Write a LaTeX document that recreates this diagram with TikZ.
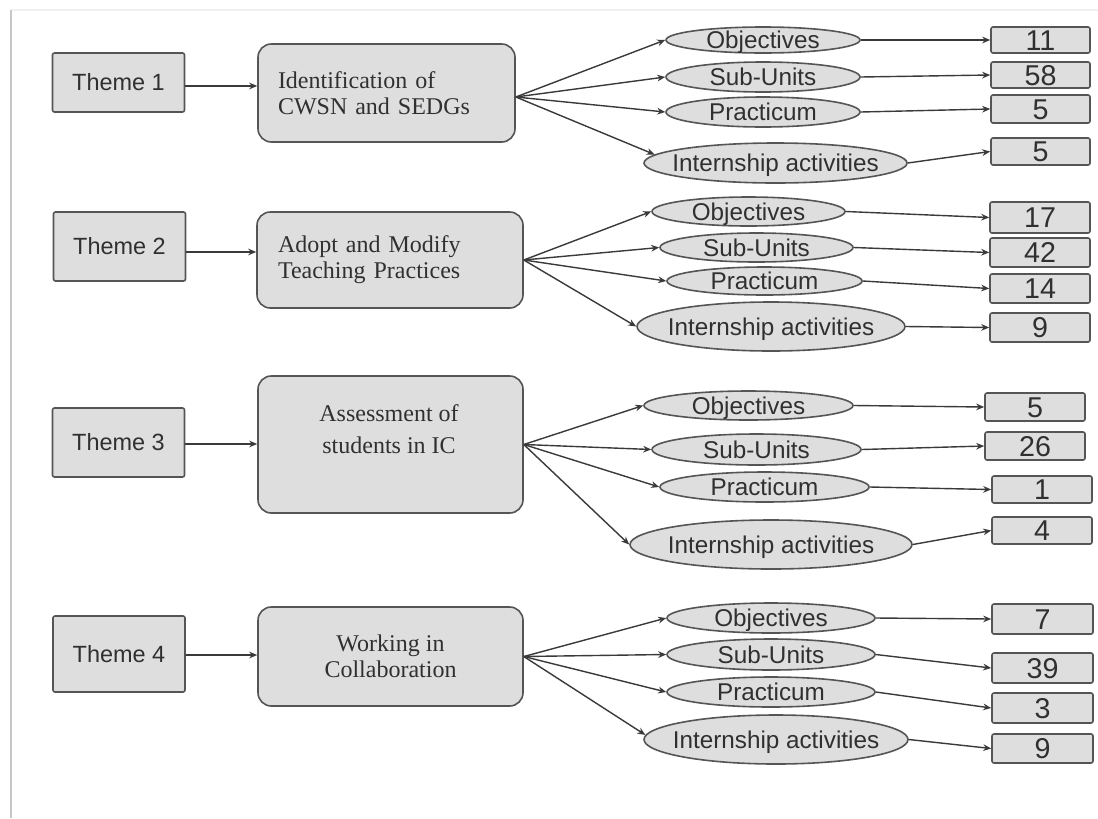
\documentclass[tikz,border=0pt]{standalone}
\usepackage{fontspec}
\setmainfont{Liberation Sans}
\newfontfamily\serifx{Liberation Serif}
\usetikzlibrary{shapes.geometric,arrows.meta}
\definecolor{boxfill}{HTML}{DEDEDE}
\definecolor{boxline}{HTML}{555555}
\definecolor{txt}{HTML}{303030}
\definecolor{conn}{HTML}{3A3A3A}
\newcommand\zw[1]{\makebox[0pt]{#1}}
\begin{document}
\begin{tikzpicture}[x=0.75pt,y=-0.75pt,
  theme/.style={draw=boxline, fill=boxfill, line width=1.2pt, rounded corners=1.5pt, minimum width=99pt, inner sep=0pt, text=txt, font=\fontsize{17.6}{20}\selectfont},
  mid/.style={draw=boxline, fill=boxfill, line width=1.2pt, rounded corners=10pt, inner sep=0pt, text=txt, font=\serifx\fontsize{18}{19.5}\selectfont},
  midtext/.style={inner sep=0pt, text=txt, font=\serifx\fontsize{18}{20}\selectfont, align=center},
  ell/.style={ellipse, draw=boxline, fill=boxfill, line width=1.2pt, inner sep=0pt, text height=12.9pt, text depth=0pt, text=txt, font=\fontsize{18.2}{20}\selectfont},
  num/.style={draw=boxline, fill=boxfill, line width=1.2pt, rounded corners=1.5pt, inner sep=0pt, text height=15.4pt, text depth=0pt, text=txt, font=\fontsize{21.5}{24}\selectfont},
  arr/.style={draw=conn, line width=1.05pt, -{Stealth[length=6pt,width=5pt]}},
]
\useasboundingbox (0,0) rectangle (1098,818);
\fill[white] (0,0) rectangle (1098,818);
\draw[gray!12, line width=1.2pt] (11,10) -- (1098,10);
\draw[gray!45, line width=2.2pt] (11,10) -- (11,818);

% ---------------- Theme 1
\node[theme, minimum height=44.25pt] (t1) at (118.5,82.5) {Theme 1};
\node[mid, minimum width=192.75pt, minimum height=73.5pt, align=left, text width=162.75pt] (m1) at (386.5,93) {Identification of\\CWSN and SEDGs};
\node[ell, minimum width=145.5pt, minimum height=19.5pt] (o1) at (763,40) {\zw{Objectives}};
\node[ell, minimum width=145.5pt, minimum height=22.5pt] (s1) at (763,77) {\zw{Sub-Units}};
\node[ell, minimum width=145.5pt, minimum height=22.5pt] (p1) at (763,112) {\zw{Practicum}};
\node[ell, minimum width=197.25pt, minimum height=30pt] (i1) at (775.5,163) {\zw{Internship activities}};
\node[num, minimum width=74.25pt, minimum height=19.5pt] (n11) at (1040.5,40) {11};
\node[num, minimum width=74.25pt, minimum height=19.5pt] (n12) at (1040.5,75) {58};
\node[num, minimum width=74.25pt, minimum height=21pt] (n13) at (1040.5,109) {5};
\node[num, minimum width=74.25pt, minimum height=20.25pt] (n14) at (1040.5,151.5) {5};
\coordinate (a1) at ([yshift=-2.6pt]t1.east);
\draw[arr] (a1) -- (a1 -| m1.west);
\coordinate (f1) at ([yshift=-3pt]m1.east);
\draw[arr] (f1) -- (o1.west);
\draw[arr] (f1) -- (s1.west);
\draw[arr] (f1) -- (p1.west);
\draw[arr] (f1) -- (i1.176);
\draw[arr] (o1.east) -- (n11.west);
\draw[arr] (s1.east) -- (n12.west);
\draw[arr] (p1.east) -- (n13.west);
\draw[arr] (i1.east) -- (n14.west);

% ---------------- Theme 2
\node[theme, minimum height=51.75pt] (t2) at (119.5,246.5) {Theme 2};
\node[mid, minimum width=199.5pt, minimum height=72pt, align=left, text width=168pt] (m2) at (390,260) {Adopt and Modify\\Teaching Practices};
\node[ell, minimum width=144.75pt, minimum height=21.75pt] (o2) at (748.5,211.5) {\zw{Objectives}};
\node[ell, minimum width=144.75pt, minimum height=21.75pt] (s2) at (756.5,247.5) {\zw{Sub-Units}};
\node[ell, minimum width=146.25pt, minimum height=21pt] (p2) at (764.5,281) {\zw{Practicum}};
\node[ell, minimum width=201pt, minimum height=36.75pt] (i2) at (771,326.5) {\zw{Internship activities}};
\node[num, minimum width=75pt, minimum height=23.25pt] (n21) at (1040,217.5) {17};
\node[num, minimum width=75pt, minimum height=21.75pt] (n22) at (1040,252.5) {42};
\node[num, minimum width=75pt, minimum height=21.75pt] (n23) at (1040,288.5) {14};
\node[num, minimum width=75pt, minimum height=21.75pt] (n24) at (1040,327.5) {9};
\coordinate (a2) at ([yshift=-4.1pt]t2.east);
\draw[arr] (a2) -- (a2 -| m2.west);
\coordinate (f2) at (m2.east);
\draw[arr] (f2) -- (o2.west);
\draw[arr] (f2) -- (s2.west);
\draw[arr] (f2) -- (p2.west);
\draw[arr] (f2) -- (i2.west);
\draw[arr] (o2.east) -- (n21.west);
\draw[arr] (s2.east) -- (n22.west);
\draw[arr] (p2.east) -- (n23.west);
\draw[arr] (i2.east) -- (n24.west);

% ---------------- Theme 3
\node[theme, minimum height=51.75pt] (t3) at (118.5,442.5) {Theme 3};
\node[mid, minimum width=198.75pt, minimum height=102.75pt] (m3) at (390.5,444.5) {};
\node[midtext] (m3t) at (389,429) {Assessment of\\[4pt]students in IC};
\node[ell, minimum width=156.75pt, minimum height=21.75pt] (o3) at (748.5,405.5) {\zw{Objectives}};
\node[ell, minimum width=156.75pt, minimum height=23.25pt] (s3) at (756.5,449.5) {\zw{Sub-Units}};
\node[ell, minimum width=156.75pt, minimum height=22.5pt] (p3) at (764.5,487) {\zw{Practicum}};
\node[ell, minimum width=211.5pt, minimum height=36.75pt] (i3) at (771,544.5) {\zw{Internship activities}};
\node[num, minimum width=75pt, minimum height=21pt] (n31) at (1035,407) {5};
\node[num, minimum width=75pt, minimum height=21pt] (n32) at (1035,446) {26};
\node[num, minimum width=75pt, minimum height=20.25pt] (n33) at (1042,489.5) {1};
\node[num, minimum width=75pt, minimum height=20.25pt] (n34) at (1042,530.5) {4};
\coordinate (a3) at ([yshift=-1.1pt]t3.east);
\draw[arr] (a3) -- (a3 -| m3.west);
\coordinate (f3) at (m3.east);
\draw[arr] (f3) -- (o3.west);
\draw[arr] (f3) -- (s3.west);
\draw[arr] (f3) -- (p3.west);
\draw[arr] (f3) -- (i3.west);
\draw[arr] (o3.east) -- (n31.west);
\draw[arr] (s3.east) -- (n32.west);
\draw[arr] (p3.east) -- (n33.west);
\draw[arr] (i3.east) -- (n34.west);

% ---------------- Theme 4
\node[theme, minimum height=57pt] (t4) at (119,654) {Theme 4};
\node[mid, minimum width=198.75pt, minimum height=74.25pt, align=center] (m4) at (390.5,656.5) {Working in\\Collaboration};
\node[ell, minimum width=156pt, minimum height=22.5pt] (o4) at (771,618) {\zw{Objectives}};
\node[ell, minimum width=156pt, minimum height=23.25pt] (s4) at (771,654.5) {\zw{Sub-Units}};
\node[ell, minimum width=156pt, minimum height=22.5pt] (p4) at (771,692) {\zw{Practicum}};
\node[ell, minimum width=198pt, minimum height=36.75pt] (i4) at (776,739.5) {\zw{Internship activities}};
\node[num, minimum width=75.75pt, minimum height=22.5pt] (n41) at (1042.5,619) {7};
\node[num, minimum width=75.75pt, minimum height=22.5pt] (n42) at (1042.5,668) {39};
\node[num, minimum width=75.75pt, minimum height=22.5pt] (n43) at (1042.5,708) {3};
\node[num, minimum width=75.75pt, minimum height=21.75pt] (n44) at (1042.5,748.5) {9};
\coordinate (a4) at ([yshift=-0.75pt]t4.east);
\draw[arr] (a4) -- (a4 -| m4.west);
\coordinate (f4) at (m4.east);
\draw[arr] (f4) -- (o4.west);
\draw[arr] (f4) -- (s4.west);
\draw[arr] (f4) -- (p4.west);
\draw[arr] (f4) -- (i4.178);
\draw[arr] (o4.east) -- (n41.west);
\draw[arr] (s4.east) -- (n42.west);
\draw[arr] (p4.east) -- (n43.west);
\draw[arr] (i4.east) -- (n44.west);
\end{tikzpicture}
\end{document}
